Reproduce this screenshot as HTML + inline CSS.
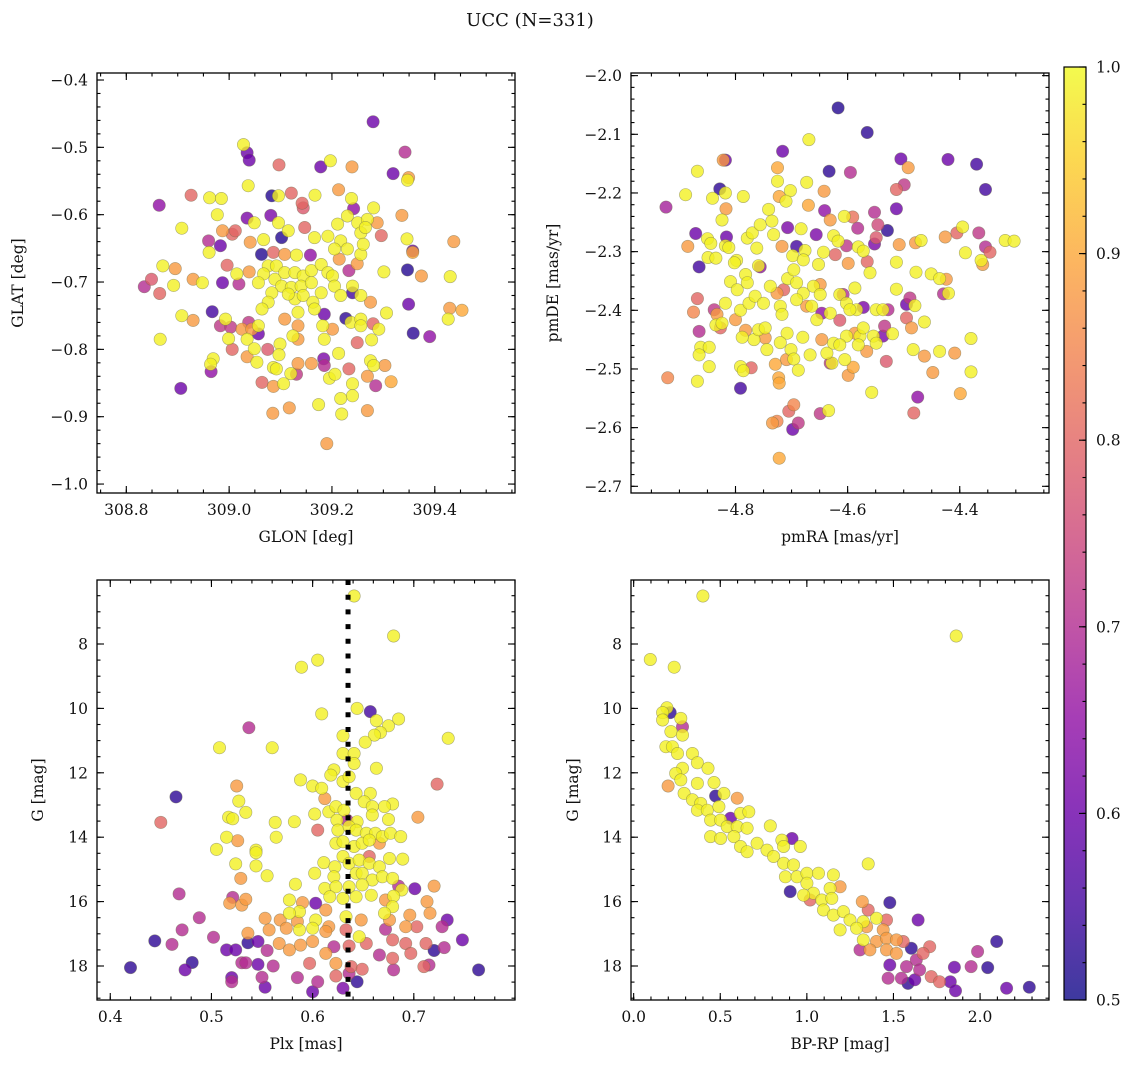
<!DOCTYPE html>
<html><head><meta charset="utf-8">
<style>
html,body{margin:0;padding:0;background:#fff;}
svg text{font-family:"DejaVu Serif","Liberation Serif",serif;fill:#111;}
</style></head>
<body>
<svg id="fig" width="1136" height="1067" viewBox="0 0 1136 1067" xmlns="http://www.w3.org/2000/svg">
<text x="530" y="26" font-size="18" text-anchor="middle">UCC (N=331)</text>
</svg>
<script>
// ---------- Panel 1: GLON vs GLAT ----------
const p1_glon = [309.280,309.342,309.028,309.035,309.039,309.097,309.178,309.197,309.239,309.319,309.349,309.347,309.037,308.926,308.962,308.985,308.864,309.083,309.096,309.121,309.142,309.144,309.167,309.213,309.238,309.242,309.281,309.336,308.977,309.035,309.049,309.081,309.096,308.908,308.987,309.006,309.012,308.960,308.983,308.961,309.041,309.067,309.102,309.115,309.147,309.166,309.192,309.211,309.230,309.250,309.269,309.288,309.217,309.256,309.265,309.296,309.346,309.357,309.357,309.437,309.063,309.086,309.108,309.131,309.158,309.205,309.230,309.214,309.256,309.261,308.996,308.871,308.895,308.849,308.835,308.865,308.892,308.930,308.948,308.987,309.019,309.015,309.039,309.233,309.249,309.301,309.347,309.374,309.430,
309.076,309.092,309.067,309.089,309.108,309.128,309.144,309.160,309.179,309.192,309.201,309.057,309.102,309.121,309.140,309.160,309.179,309.128,309.144,309.163,309.083,309.076,309.064,309.134,309.166,309.115,309.205,309.217,309.240,309.256,309.240,
308.908,308.930,308.967,308.993,308.983,309.003,309.025,309.038,309.044,309.057,309.057,309.035,308.999,309.006,309.049,309.075,309.108,309.134,309.099,309.124,309.134,309.185,309.182,309.185,309.201,309.227,309.237,309.256,309.256,309.280,309.291,309.306,309.275,309.349,309.358,309.390,309.429,309.453,309.426,309.249,309.277,308.866,308.969,308.964,308.965,308.906,309.035,309.054,309.097,309.086,309.092,309.134,309.131,309.120,309.160,309.184,309.185,309.213,309.195,309.206,309.233,309.275,309.281,309.303,309.269,309.285,309.315,309.240,309.240,309.217,309.219,309.269,309.174,309.117,309.085,309.064,309.086,309.106,309.190];
const p1_glat = [-0.462,-0.507,-0.496,-0.508,-0.519,-0.526,-0.529,-0.520,-0.529,-0.539,-0.545,-0.549,-0.557,-0.571,-0.575,-0.576,-0.586,-0.572,-0.572,-0.568,-0.583,-0.590,-0.571,-0.563,-0.576,-0.591,-0.590,-0.601,-0.600,-0.605,-0.612,-0.601,-0.612,-0.620,-0.624,-0.629,-0.624,-0.639,-0.646,-0.656,-0.641,-0.637,-0.634,-0.624,-0.619,-0.634,-0.632,-0.614,-0.602,-0.612,-0.607,-0.612,-0.639,-0.627,-0.619,-0.631,-0.636,-0.654,-0.656,-0.640,-0.659,-0.656,-0.659,-0.660,-0.660,-0.651,-0.651,-0.666,-0.659,-0.644,-0.675,-0.676,-0.680,-0.696,-0.707,-0.717,-0.705,-0.696,-0.701,-0.701,-0.703,-0.688,-0.685,-0.683,-0.673,-0.685,-0.682,-0.691,-0.692,
-0.676,-0.676,-0.688,-0.696,-0.686,-0.686,-0.691,-0.683,-0.674,-0.686,-0.691,-0.701,-0.706,-0.708,-0.706,-0.701,-0.716,-0.725,-0.720,-0.730,-0.716,-0.730,-0.740,-0.745,-0.740,-0.718,-0.706,-0.720,-0.706,-0.720,-0.716,
-0.750,-0.757,-0.744,-0.755,-0.765,-0.767,-0.770,-0.760,-0.770,-0.765,-0.777,-0.785,-0.784,-0.800,-0.799,-0.800,-0.755,-0.765,-0.792,-0.780,-0.785,-0.748,-0.765,-0.785,-0.770,-0.754,-0.760,-0.755,-0.765,-0.762,-0.770,-0.746,-0.730,-0.733,-0.776,-0.781,-0.739,-0.742,-0.755,-0.790,-0.786,-0.785,-0.814,-0.822,-0.833,-0.858,-0.811,-0.819,-0.808,-0.827,-0.829,-0.821,-0.837,-0.836,-0.821,-0.814,-0.824,-0.806,-0.843,-0.837,-0.829,-0.817,-0.824,-0.824,-0.840,-0.854,-0.848,-0.851,-0.869,-0.873,-0.896,-0.891,-0.882,-0.887,-0.895,-0.849,-0.855,-0.851,-0.940];
const p1_prob = [0.6,0.7,0.99,0.6,0.6,0.8,0.6,0.99,0.88,0.6,0.88,0.99,0.99,0.8,0.99,0.99,0.65,0.52,0.99,0.8,0.8,0.78,0.99,0.88,0.99,0.65,0.99,0.88,0.99,0.62,0.99,0.62,0.99,0.99,0.88,0.8,0.8,0.7,0.6,0.99,0.88,0.99,0.52,0.99,0.8,0.99,0.99,0.99,0.99,0.99,0.99,0.88,0.99,0.99,0.99,0.8,0.99,0.6,0.9,0.88,0.52,0.8,0.88,0.99,0.65,0.99,0.99,0.88,0.99,0.99,0.8,0.99,0.88,0.78,0.7,0.8,0.99,0.88,0.99,0.6,0.7,0.99,0.88,0.7,0.88,0.99,0.52,0.88,0.99,
0.99,0.99,0.99,0.99,0.99,0.99,0.99,0.99,0.99,0.99,0.99,0.99,0.99,0.99,0.99,0.99,0.99,0.99,0.99,0.99,0.99,0.99,0.99,0.99,0.99,0.99,0.99,0.99,0.99,0.99,0.55,
0.99,0.88,0.55,0.99,0.72,0.72,0.88,0.72,0.88,0.99,0.6,0.99,0.99,0.8,0.99,0.78,0.88,0.88,0.99,0.99,0.88,0.6,0.99,0.99,0.88,0.53,0.99,0.99,0.99,0.8,0.99,0.99,0.88,0.6,0.53,0.65,0.88,0.9,0.99,0.8,0.99,0.99,0.99,0.99,0.65,0.6,0.88,0.99,0.99,0.99,0.99,0.88,0.72,0.99,0.88,0.62,0.7,0.99,0.99,0.99,0.8,0.99,0.99,0.88,0.88,0.7,0.9,0.99,0.99,0.99,0.99,0.88,0.99,0.88,0.88,0.8,0.88,0.99,0.88];

// ---------- Panel 2: pmRA vs pmDE ----------
const p2_pmra = [-4.617,-4.565,-4.669,-4.716,-4.633,-4.595,-4.505,-4.492,-4.421,-4.370,-4.354,-4.499,-4.513,-4.513,-4.552,-4.546,-4.529,-4.549,-4.552,-4.582,-4.656,-4.707,-4.683,-4.818,-4.822,-4.868,-4.889,-4.924,-4.828,-4.818,-4.841,-4.817,-4.824,-4.786,-4.725,-4.725,-4.702,-4.722,-4.710,-4.673,-4.670,-4.642,-4.641,-4.631,-4.606,-4.591,-4.395,-4.405,-4.426,-4.366,-4.319,-4.303,-4.354,-4.346,-4.390,-4.362,-4.359,-4.479,-4.469,-4.508,-4.513,-4.478,-4.451,-4.436,-4.424,-4.429,-4.420,-4.871,-4.850,-4.844,-4.885,-4.865,-4.849,-4.835,-4.816,-4.818,-4.812,-4.798,-4.802,-4.756,-4.762,-4.779,-4.770,-4.756,-4.741,-4.735,-4.732,-4.717,-4.691,-4.698,-4.676,-4.679,-4.652,-4.643,-4.625,-4.617,-4.602,-4.622,-4.599,-4.581,-4.572,-4.565,-4.560,-4.868,-4.875,-4.865,-4.862,-4.847,-4.865,-4.847,-4.921,-4.868,-4.838,-4.833,-4.835,-4.824,-4.827,-4.818,-4.809,-4.797,-4.800,-4.791,-4.776,-4.765,-4.750,-4.782,-4.779,-4.759,-4.738,-4.726,-4.714,-4.720,-4.717,-4.707,-4.696,-4.691,-4.679,-4.691,-4.673,-4.661,-4.649,-4.649,-4.664,-4.655,-4.646,-4.631,-4.608,-4.614,-4.602,-4.587,-4.584,-4.572,-4.596,-4.614,-4.602,-4.587,-4.578,-4.572,-4.581,-4.566,-4.549,-4.537,-4.528,-4.554,-4.549,-4.537,-4.534,-4.520,-4.531,-4.513,-4.489,-4.495,-4.480,-4.495,-4.486,-4.463,-4.483,-4.463,-4.436,-4.409,-4.380,-4.380,-4.448,-4.399,-4.475,-4.482,-4.557,-4.599,-4.590,-4.605,-4.631,-4.628,-4.637,-4.646,-4.625,-4.614,-4.667,-4.680,-4.708,-4.720,-4.747,-4.744,-4.701,-4.696,-4.709,-4.688,-4.729,-4.723,-4.722,-4.791,-4.786,-4.772,-4.791,-4.767,-4.759,-4.747,-4.788,-4.782,-4.696,-4.705,-4.688,-4.698,-4.726,-4.734,-4.649,-4.634,-4.722];
const p2_pmde = [-2.055,-2.097,-2.109,-2.129,-2.163,-2.165,-2.142,-2.157,-2.143,-2.151,-2.194,-2.186,-2.194,-2.227,-2.233,-2.254,-2.264,-2.276,-2.287,-2.260,-2.271,-2.259,-2.261,-2.144,-2.144,-2.163,-2.203,-2.224,-2.193,-2.200,-2.209,-2.227,-2.246,-2.206,-2.157,-2.180,-2.196,-2.206,-2.214,-2.182,-2.221,-2.197,-2.230,-2.246,-2.240,-2.241,-2.258,-2.268,-2.275,-2.268,-2.281,-2.282,-2.292,-2.301,-2.302,-2.315,-2.322,-2.285,-2.281,-2.288,-2.318,-2.335,-2.338,-2.346,-2.347,-2.372,-2.371,-2.269,-2.278,-2.286,-2.291,-2.326,-2.310,-2.311,-2.275,-2.290,-2.293,-2.315,-2.319,-2.326,-2.294,-2.277,-2.268,-2.254,-2.228,-2.248,-2.271,-2.291,-2.291,-2.307,-2.298,-2.314,-2.322,-2.301,-2.273,-2.282,-2.290,-2.305,-2.320,-2.292,-2.299,-2.317,-2.336,-2.380,-2.403,-2.436,-2.463,-2.463,-2.476,-2.496,-2.515,-2.521,-2.399,-2.407,-2.425,-2.422,-2.430,-2.388,-2.351,-2.365,-2.416,-2.400,-2.388,-2.376,-2.388,-2.339,-2.353,-2.324,-2.359,-2.371,-2.365,-2.393,-2.407,-2.346,-2.331,-2.353,-2.371,-2.382,-2.393,-2.359,-2.356,-2.373,-2.393,-2.416,-2.405,-2.405,-2.373,-2.373,-2.388,-2.362,-2.399,-2.395,-2.399,-2.417,-2.444,-2.439,-2.444,-2.430,-2.459,-2.470,-2.399,-2.399,-2.399,-2.444,-2.456,-2.444,-2.427,-2.440,-2.487,-2.364,-2.379,-2.390,-2.392,-2.413,-2.430,-2.420,-2.467,-2.478,-2.470,-2.473,-2.448,-2.505,-2.506,-2.542,-2.548,-2.575,-2.540,-2.511,-2.497,-2.484,-2.490,-2.490,-2.473,-2.450,-2.456,-2.459,-2.476,-2.446,-2.439,-2.455,-2.447,-2.467,-2.467,-2.483,-2.484,-2.502,-2.492,-2.515,-2.524,-2.496,-2.503,-2.498,-2.533,-2.450,-2.433,-2.430,-2.446,-2.434,-2.561,-2.572,-2.592,-2.603,-2.589,-2.592,-2.576,-2.571,-2.652];
const p2_prob = [0.52,0.53,0.99,0.6,0.53,0.7,0.6,0.88,0.6,0.55,0.55,0.72,0.8,0.6,0.7,0.75,0.53,0.78,0.62,0.7,0.62,0.62,0.99,0.6,0.88,0.99,0.99,0.68,0.53,0.99,0.99,0.88,0.99,0.99,0.9,0.99,0.99,0.9,0.99,0.99,0.9,0.88,0.65,0.88,0.99,0.82,0.99,0.8,0.88,0.72,0.99,0.99,0.7,0.8,0.99,0.99,0.88,0.88,0.99,0.88,0.99,0.99,0.99,0.99,0.88,0.7,0.99,0.6,0.99,0.99,0.88,0.55,0.99,0.99,0.6,0.99,0.99,0.99,0.99,0.65,0.99,0.99,0.99,0.99,0.99,0.99,0.99,0.88,0.55,0.99,0.99,0.99,0.99,0.99,0.99,0.99,0.72,0.8,0.88,0.99,0.99,0.8,0.99,0.8,0.85,0.7,0.99,0.99,0.99,0.99,0.85,0.99,0.72,0.88,0.99,0.99,0.8,0.99,0.99,0.99,0.88,0.99,0.99,0.99,0.99,0.99,0.99,0.99,0.99,0.88,0.8,0.99,0.99,0.99,0.99,0.99,0.99,0.99,0.88,0.99,0.88,0.99,0.99,0.99,0.65,0.99,0.7,0.99,0.99,0.99,0.99,0.62,0.99,0.78,0.99,0.88,0.99,0.99,0.99,0.88,0.99,0.99,0.7,0.99,0.99,0.62,0.72,0.99,0.78,0.99,0.72,0.6,0.99,0.8,0.88,0.99,0.99,0.88,0.99,0.88,0.99,0.99,0.88,0.9,0.65,0.8,0.99,0.88,0.9,0.99,0.72,0.99,0.99,0.88,0.99,0.99,0.99,0.99,0.99,0.99,0.88,0.99,0.99,0.99,0.88,0.99,0.9,0.9,0.9,0.99,0.99,0.8,0.55,0.99,0.99,0.99,0.99,0.88,0.85,0.8,0.72,0.6,0.85,0.88,0.72,0.99,0.9];

// ---------- Panel 3: Plx vs G ----------
const p3_plx = [0.641,0.680,0.605,0.589,0.609,0.644,0.657,0.537,0.508,0.560,0.685,0.675,0.663,0.667,0.661,0.652,0.630,0.734,0.630,0.641,0.641,0.663,0.621,0.618,0.588,0.600,0.609,0.630,0.636,0.723,0.465,0.525,0.527,0.612,0.643,0.657,0.651,0.679,0.671,0.659,0.616,0.623,0.631,0.602,0.624,0.634,0.644,0.659,0.675,0.704,0.450,0.517,0.521,0.534,0.563,0.582,0.605,0.625,0.636,0.643,0.653,0.662,0.669,0.677,0.687,0.515,0.526,0.564,0.505,0.544,0.544,0.623,0.630,0.641,0.649,0.656,0.666,0.676,0.689,0.656,0.524,0.544,0.555,0.529,0.611,0.602,0.622,0.630,0.636,0.646,0.656,0.666,0.643,0.649,0.659,0.669,0.679,0.621,0.583,0.612,0.623,0.636,0.649,0.658,0.685,0.701,0.720,0.688,0.680,0.468,0.521,0.518,0.530,0.534,0.577,0.603,0.617,0.630,0.643,0.672,0.713,0.679,0.587,0.577,0.590,0.613,0.633,0.671,0.696,0.716,0.733,0.488,0.553,0.568,0.585,0.603,0.616,0.648,0.676,0.692,0.703,0.728,0.471,0.502,0.536,0.557,0.574,0.587,0.600,0.613,0.633,0.646,0.672,0.444,0.461,0.515,0.524,0.536,0.546,0.555,0.567,0.577,0.588,0.600,0.613,0.621,0.636,0.653,0.679,0.692,0.712,0.748,0.720,0.730,0.666,0.697,0.420,0.474,0.481,0.530,0.534,0.546,0.561,0.597,0.623,0.638,0.649,0.679,0.680,0.710,0.715,0.764,0.520,0.520,0.550,0.553,0.585,0.605,0.623,0.644,0.600,0.630,0.636];
const p3_g = [6.51,7.75,8.50,8.72,10.17,10.00,10.10,10.60,11.22,11.22,10.33,10.54,10.38,10.75,10.83,11.05,10.85,10.93,11.40,11.40,11.71,11.86,11.91,12.07,12.22,12.41,12.48,12.27,12.12,12.35,12.75,12.41,12.88,12.80,12.64,12.64,12.90,12.97,13.05,13.05,13.21,13.05,13.16,13.28,13.47,13.47,13.52,13.31,13.45,13.38,13.54,13.38,13.43,13.23,13.54,13.52,13.78,13.78,13.67,13.78,13.88,13.88,13.98,13.88,13.98,14.00,14.11,14.00,14.38,14.40,14.48,14.19,14.14,14.29,14.19,14.09,14.19,14.66,14.68,14.60,14.83,14.89,15.20,15.28,14.79,15.12,14.92,14.60,14.81,14.71,14.81,14.92,15.12,15.12,15.33,15.23,15.28,15.23,15.46,15.59,15.54,15.54,15.48,15.80,15.52,15.60,15.52,15.64,15.83,15.76,15.87,16.05,16.11,15.93,15.95,16.05,15.85,15.90,15.85,15.95,16.00,16.16,16.31,16.36,16.03,16.26,16.47,16.36,16.42,16.36,16.57,16.50,16.52,16.57,16.62,16.57,16.78,16.57,16.57,16.78,16.78,16.78,16.88,17.11,16.98,16.88,16.83,16.88,16.83,16.93,16.88,17.09,16.86,17.22,17.33,17.50,17.50,17.28,17.24,17.52,17.30,17.50,17.35,17.24,17.61,17.40,17.38,17.30,17.19,17.30,17.30,17.19,17.52,17.43,17.66,17.61,18.05,18.12,17.89,17.90,17.90,17.95,18.00,17.92,17.92,18.02,18.10,17.76,18.12,18.02,17.97,18.12,18.36,18.49,18.35,18.66,18.36,18.49,18.31,18.49,18.80,18.69,18.23];
const p3_prob = [0.99,0.99,0.99,0.99,0.99,0.99,0.55,0.7,0.99,0.99,0.99,0.99,0.99,0.99,0.99,0.99,0.99,0.99,0.99,0.99,0.99,0.99,0.99,0.99,0.99,0.99,0.99,0.99,0.99,0.8,0.53,0.88,0.99,0.88,0.99,0.99,0.99,0.99,0.99,0.99,0.99,0.99,0.99,0.99,0.99,0.7,0.99,0.99,0.99,0.88,0.8,0.99,0.99,0.99,0.99,0.99,0.8,0.99,0.99,0.99,0.99,0.99,0.99,0.99,0.99,0.99,0.88,0.99,0.99,0.99,0.99,0.99,0.99,0.99,0.99,0.99,0.88,0.99,0.99,0.8,0.99,0.99,0.99,0.88,0.99,0.99,0.99,0.99,0.99,0.99,0.99,0.99,0.99,0.99,0.99,0.99,0.99,0.99,0.99,0.99,0.99,0.99,0.99,0.99,0.7,0.6,0.88,0.99,0.99,0.7,0.7,0.88,0.88,0.88,0.99,0.6,0.99,0.99,0.99,0.88,0.88,0.99,0.99,0.99,0.88,0.88,0.99,0.99,0.88,0.88,0.6,0.7,0.88,0.88,0.88,0.99,0.88,0.88,0.88,0.88,0.8,0.7,0.7,0.7,0.88,0.88,0.88,0.99,0.99,0.88,0.8,0.99,0.7,0.53,0.7,0.6,0.6,0.53,0.6,0.7,0.88,0.88,0.88,0.88,0.88,0.7,0.8,0.8,0.8,0.8,0.8,0.6,0.53,0.7,0.7,0.8,0.53,0.6,0.53,0.7,0.7,0.6,0.7,0.8,0.88,0.8,0.8,0.8,0.7,0.8,0.7,0.53,0.6,0.7,0.7,0.6,0.7,0.7,0.8,0.53,0.6,0.62,0.7];

// ---------- Panel 4: BP-RP vs G ----------
const p4_bprp = [0.400,1.862,0.096,0.234,0.192,0.167,0.211,0.167,0.272,0.215,0.282,0.282,0.186,0.224,0.253,0.339,0.368,0.429,0.282,0.243,0.272,0.199,0.368,0.464,0.291,0.473,0.521,0.598,0.339,0.387,0.368,0.425,0.492,0.559,0.617,0.665,0.444,0.502,0.540,0.598,0.655,0.789,0.444,0.502,0.579,0.617,0.655,0.713,0.770,0.856,0.914,0.866,0.962,0.808,0.866,0.923,1.354,0.876,0.943,1.000,1.067,1.153,0.904,1.000,1.038,1.134,1.192,0.981,1.086,1.144,1.019,1.096,1.153,1.211,1.249,1.320,1.354,1.479,1.642,1.326,1.402,1.460,1.192,1.287,1.345,1.441,1.326,1.402,1.460,1.517,1.556,1.603,1.709,1.671,1.307,1.364,1.460,1.517,1.632,1.575,1.651,1.718,1.766,1.479,1.469,1.546,1.584,1.623,1.852,1.948,1.986,2.096,2.044,1.828,1.858,2.153,2.284];
const p4_g = [6.51,7.75,8.48,8.72,9.98,10.13,10.13,10.36,10.31,10.72,10.83,10.57,11.19,11.19,11.40,11.40,11.69,11.86,11.86,12.02,12.22,12.41,12.33,12.30,12.64,12.72,12.64,12.79,12.84,12.95,13.16,13.16,13.05,13.41,13.26,13.21,13.47,13.47,13.67,13.67,13.72,13.65,13.98,14.04,13.98,14.29,14.45,14.19,14.40,14.09,14.04,14.29,14.29,14.60,14.81,14.86,14.83,15.23,15.23,15.12,15.12,15.17,15.69,15.43,15.74,15.59,15.54,15.80,15.95,15.90,15.95,16.26,16.42,16.31,16.57,16.00,16.26,16.03,16.57,16.62,16.52,16.57,16.88,16.83,16.78,16.88,17.19,17.24,17.14,17.19,17.24,17.45,17.40,17.61,17.50,17.50,17.50,17.61,17.81,18.02,18.12,18.33,18.49,17.97,18.38,18.38,18.54,18.43,18.04,18.02,17.55,17.24,18.05,18.49,18.77,18.69,18.66];
const p4_prob = [0.99,0.99,0.99,0.99,0.99,0.99,0.53,0.99,0.99,0.99,0.99,0.7,0.99,0.99,0.99,0.99,0.99,0.99,0.99,0.99,0.99,0.88,0.99,0.99,0.99,0.53,0.99,0.88,0.99,0.99,0.99,0.99,0.99,0.6,0.99,0.99,0.99,0.99,0.99,0.99,0.99,0.99,0.99,0.99,0.99,0.99,0.99,0.99,0.99,0.99,0.6,0.99,0.99,0.99,0.99,0.99,0.99,0.99,0.99,0.99,0.99,0.99,0.53,0.99,0.99,0.99,0.88,0.99,0.99,0.99,0.8,0.99,0.99,0.99,0.99,0.88,0.8,0.53,0.6,0.99,0.99,0.8,0.99,0.99,0.88,0.88,0.99,0.88,0.88,0.88,0.8,0.53,0.8,0.8,0.7,0.88,0.88,0.88,0.7,0.7,0.7,0.8,0.8,0.6,0.7,0.7,0.53,0.6,0.6,0.7,0.7,0.53,0.53,0.6,0.6,0.6,0.53];

// tick label arrays
const p1_xticks = [308.8,309.0,309.2,309.4];
const p1_yticks = [-0.4,-0.5,-0.6,-0.7,-0.8,-0.9,-1.0];
const p2_xticks = [-4.8,-4.6,-4.4];
const p2_yticks = [-2.0,-2.1,-2.2,-2.3,-2.4,-2.5,-2.6,-2.7];
const p3_xticks = [0.4,0.5,0.6,0.7];
const g_ticks = [8,10,12,14,16,18];
const p4_xticks = [0.0,0.5,1.0,1.5,2.0];
const cb_ticks = [0.5,0.6,0.7,0.8,0.9,1.0];
const plx_ref = 0.635;

const NS = "http://www.w3.org/2000/svg";
const svg = document.getElementById('fig');
function mk(tag, attrs, parent){
  const e = document.createElementNS(NS, tag);
  for (const k in attrs) e.setAttribute(k, attrs[k]);
  (parent||svg).appendChild(e);
  return e;
}
const stops = [[0,13,8,135],[0.1,65,4,157],[0.2,106,0,168],[0.3,143,13,164],[0.4,177,42,144],[0.5,204,71,120],[0.6,225,100,98],[0.7,242,132,75],[0.8,252,166,54],[0.9,252,206,37],[1,240,249,33]];
function plasma(t){
  t=Math.max(0,Math.min(1,t));
  for(let i=0;i<stops.length-1;i++){
    const a=stops[i],b=stops[i+1];
    if(t<=b[0]){const f=(t-a[0])/(b[0]-a[0]);
      return 'rgb('+Math.round(a[1]+f*(b[1]-a[1]))+','+Math.round(a[2]+f*(b[2]-a[2]))+','+Math.round(a[3]+f*(b[3]-a[3]))+')';}
  }
  return 'rgb(240,249,33)';
}
function fmt(v,d){ const s=v.toFixed(d); return s.replace('-', '\u2212'); }

function panel(cfg){
  const {name,L,T,W,H,xmin,xmax,ymin,ymax,xs,ys,ps,xt,yt,xd,yd,xminor,yminor,xlabel,ylabel,ylabX,invertY} = cfg;
  const sx = v => L + (v - xmin)/(xmax - xmin)*W;
  const sy = invertY ? (v => T + (v - ymin)/(ymax - ymin)*H) : (v => T + (ymax - v)/(ymax - ymin)*H);
  const g = mk('g', {});
  
  
  const cp = mk('clipPath', {id: name+'-clip'}, g);
  mk('rect', {x:L, y:T, width:W, height:H}, cp);
  const pts = mk('g', {'clip-path':'url(#'+name+'-clip)'}, g);
  
  
  const idx = ps.map((p,i)=>i).sort((a,b)=>ps[a]-ps[b]);
  idx.forEach(i=>{
    const c = mk('circle', {cx:sx(xs[i]).toFixed(1), cy:sy(ys[i]).toFixed(1), r:6.2, fill:plasma((ps[i]-0.5)/0.5), 'fill-opacity':0.8, stroke:'#6b6b4a', 'stroke-opacity':0.55, 'stroke-width':0.6}, pts);
    
    
  });
  if (cfg.vline !== undefined){
    const ln = mk('line', {x1:sx(cfg.vline), x2:sx(cfg.vline), y1:T, y2:T+H, stroke:'#000', 'stroke-width':5, 'stroke-dasharray':'5,9.7'}, g);
    
    
  }
  const fr = mk('rect', {x:L, y:T, width:W, height:H, fill:'none', stroke:'#000', 'stroke-width':1.3}, g);
  
  
  const tk = mk('g', {stroke:'#000', 'stroke-width':1.1}, g);
  const x0 = Math.ceil(xmin/xminor-1e-6);
  for(let k=x0; k*xminor<=xmax+1e-9; k++){
    const x=sx(k*xminor);
    mk('line',{x1:x,x2:x,y1:T+H,y2:T+H-3.5},tk); mk('line',{x1:x,x2:x,y1:T,y2:T+3.5},tk);
  }
  const y0 = Math.ceil(Math.min(ymin,ymax)/yminor-1e-6);
  for(let k=y0; k*yminor<=Math.max(ymin,ymax)+1e-9; k++){
    const y=sy(k*yminor);
    mk('line',{x1:L,x2:L+3.5,y1:y,y2:y},tk); mk('line',{x1:L+W,x2:L+W-3.5,y1:y,y2:y},tk);
  }
  xt.forEach(v=>{
    const x=sx(v);
    mk('line',{x1:x,x2:x,y1:T+H,y2:T+H-7},tk); mk('line',{x1:x,x2:x,y1:T,y2:T+7},tk);
    const t=mk('text',{x:x,y:T+H+22,'font-size':15.5,'text-anchor':'middle'},g);
    t.textContent=fmt(v,xd);
    
    
  });
  yt.forEach(v=>{
    const y=sy(v);
    mk('line',{x1:L,x2:L+7,y1:y,y2:y},tk); mk('line',{x1:L+W,x2:L+W-7,y1:y,y2:y},tk);
    const t=mk('text',{x:L-9,y:y+5.5,'font-size':15.5,'text-anchor':'end'},g);
    t.textContent=fmt(v,yd);
    
    
  });
  const xl=mk('text',{x:L+W/2,y:T+H+49,'font-size':15.5,'text-anchor':'middle'},g);
  xl.textContent=xlabel;
  
  
  const yy=T+H/2;
  const yl=mk('text',{x:ylabX,y:yy,'font-size':15.5,'text-anchor':'middle',transform:'rotate(-90 '+ylabX+' '+yy+')'},g);
  yl.textContent=ylabel;
  
  
}

panel({name:'glon-glat',L:97,T:73,W:418,H:420,xmin:308.743,xmax:309.556,ymin:-1.0133,ymax:-0.3896,xs:p1_glon,ys:p1_glat,ps:p1_prob,xt:p1_xticks,yt:p1_yticks,xd:1,yd:1,xminor:0.05,yminor:0.02,xlabel:'GLON [deg]',ylabel:'GLAT [deg]',ylabX:23});
panel({name:'pmra-pmde',L:631,T:73,W:418,H:420,xmin:-4.9864,xmax:-4.2408,ymin:-2.7114,ymax:-1.9955,xs:p2_pmra,ys:p2_pmde,ps:p2_prob,xt:p2_xticks,yt:p2_yticks,xd:1,yd:1,xminor:0.05,yminor:0.02,xlabel:'pmRA [mas/yr]',ylabel:'pmDE [mas/yr]',ylabX:558});
panel({name:'plx-g',L:97,T:580,W:418,H:420,xmin:0.3869,xmax:0.8,ymin:6.0124,ymax:19.056,invertY:true,xs:p3_plx,ys:p3_g,ps:p3_prob,xt:p3_xticks,yt:g_ticks,xd:1,yd:0,xminor:0.02,yminor:0.5,xlabel:'Plx [mas]',ylabel:'G [mag]',ylabX:43,vline:plx_ref});
panel({name:'bprp-g',L:631,T:580,W:418,H:420,xmin:-0.0153,xmax:2.398,ymin:6.0124,ymax:19.056,invertY:true,xs:p4_bprp,ys:p4_g,ps:p4_prob,xt:p4_xticks,yt:g_ticks,xd:1,yd:0,xminor:0.1,yminor:0.5,xlabel:'BP-RP [mag]',ylabel:'G [mag]',ylabX:578});

// colorbar
(function(){
  const L=1064,T=67,W=22,H=933;
  const cb = mk('g',{});
  
  
  const defs = mk('defs',{},cb);
  const lg = mk('linearGradient',{id:'cbgrad',x1:0,y1:1,x2:0,y2:0},defs);
  for(let i=0;i<=20;i++){ mk('stop',{offset:(i/20),'stop-color':plasma(i/20),'stop-opacity':0.8},lg); }
  mk('rect',{x:L,y:T,width:W,height:H,fill:'url(#cbgrad)',stroke:'#000','stroke-width':1.2},cb);
  const sy = v => T + (1.0 - v)/0.5*H;
  for(let k=25;k<=50;k++){
    const y=sy(k*0.02);
    mk('line',{x1:L+W,x2:L+W-3.5,y1:y,y2:y,stroke:'#000','stroke-width':1.1},cb);
  }
  cb_ticks.forEach(v=>{
    const y=sy(v);
    mk('line',{x1:L+W,x2:L+W-7,y1:y,y2:y,stroke:'#000','stroke-width':1.1},cb);
    const t=mk('text',{x:L+W+10,y:y+5.5,'font-size':15.5},cb);
    t.textContent=v.toFixed(1);
    
    
  });
})();
</script>
</body></html>
